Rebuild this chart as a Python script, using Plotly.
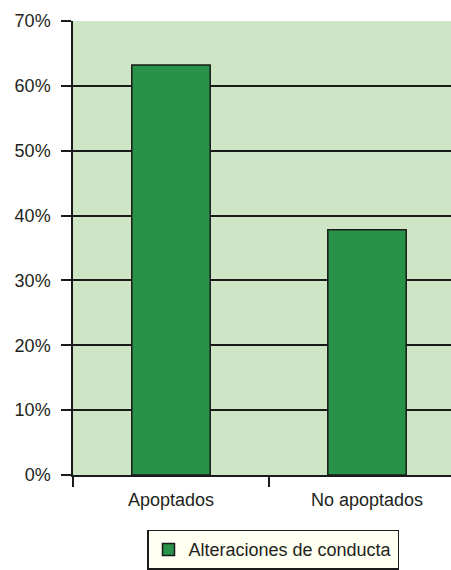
import plotly.graph_objects as go

categories = ["Apoptados", "No apoptados"]
values = [63.2, 37.8]
series_name = "Alteraciones de conducta"
y_ticks = [0, 10, 20, 30, 40, 50, 60, 70]
y_labels = [f"{v}%" for v in y_ticks]

FONT = "Liberation Sans, Arial, Helvetica, sans-serif"
INK = "#1a1a1a"

fig = go.Figure()
fig.add_trace(go.Bar(
    x=categories, y=values, name=series_name, width=0.4,
    marker=dict(color="#279248", line=dict(color=INK, width=1.5)),
    showlegend=True,
))

W, H = 451, 570
left, top, bottom = 73, 21, 93
plot_w = W - left
cat_px = 196
x_max = -0.5 + plot_w / cat_px

fig.update_layout(
    width=W, height=H,
    margin=dict(l=left, r=0, t=top, b=bottom, pad=0),
    paper_bgcolor="white", plot_bgcolor="#cfe6c6",
    font=dict(family=FONT, size=18, color="#231f20"),
    showlegend=True,
    legend=dict(
        x=(147 - left) / plot_w, xanchor="left",
        y=-(532 - (H - bottom)) / (H - top - bottom), yanchor="top",
        bgcolor="#fffff2", bordercolor=INK, borderwidth=1.5,
        font=dict(size=18), itemwidth=30,
        tracegroupgap=0,
    ),
    bargap=0.6,
)
fig.update_xaxes(
    type="category", range=[-0.5, x_max],
    tickson="boundaries", ticks="outside", ticklen=10, tickwidth=1.5, tickcolor=INK,
    showline=True, linecolor=INK, linewidth=1.5,
    showgrid=False, zeroline=False, ticklabelstandoff=8,
)
fig.update_yaxes(
    range=[0, 70], tickvals=y_ticks, ticktext=y_labels,
    ticks="outside", ticklen=10, tickwidth=1.5, tickcolor=INK,
    showline=True, linecolor=INK, linewidth=1.5,
    showgrid=True, gridcolor=INK, gridwidth=1.6,
    zeroline=False, ticklabelstandoff=7,
)

fig.write_html(
    "out.html",
    config={"displayModeBar": False},
    post_script="document.body.style.margin='0';document.body.style.overflow='hidden';",
)
